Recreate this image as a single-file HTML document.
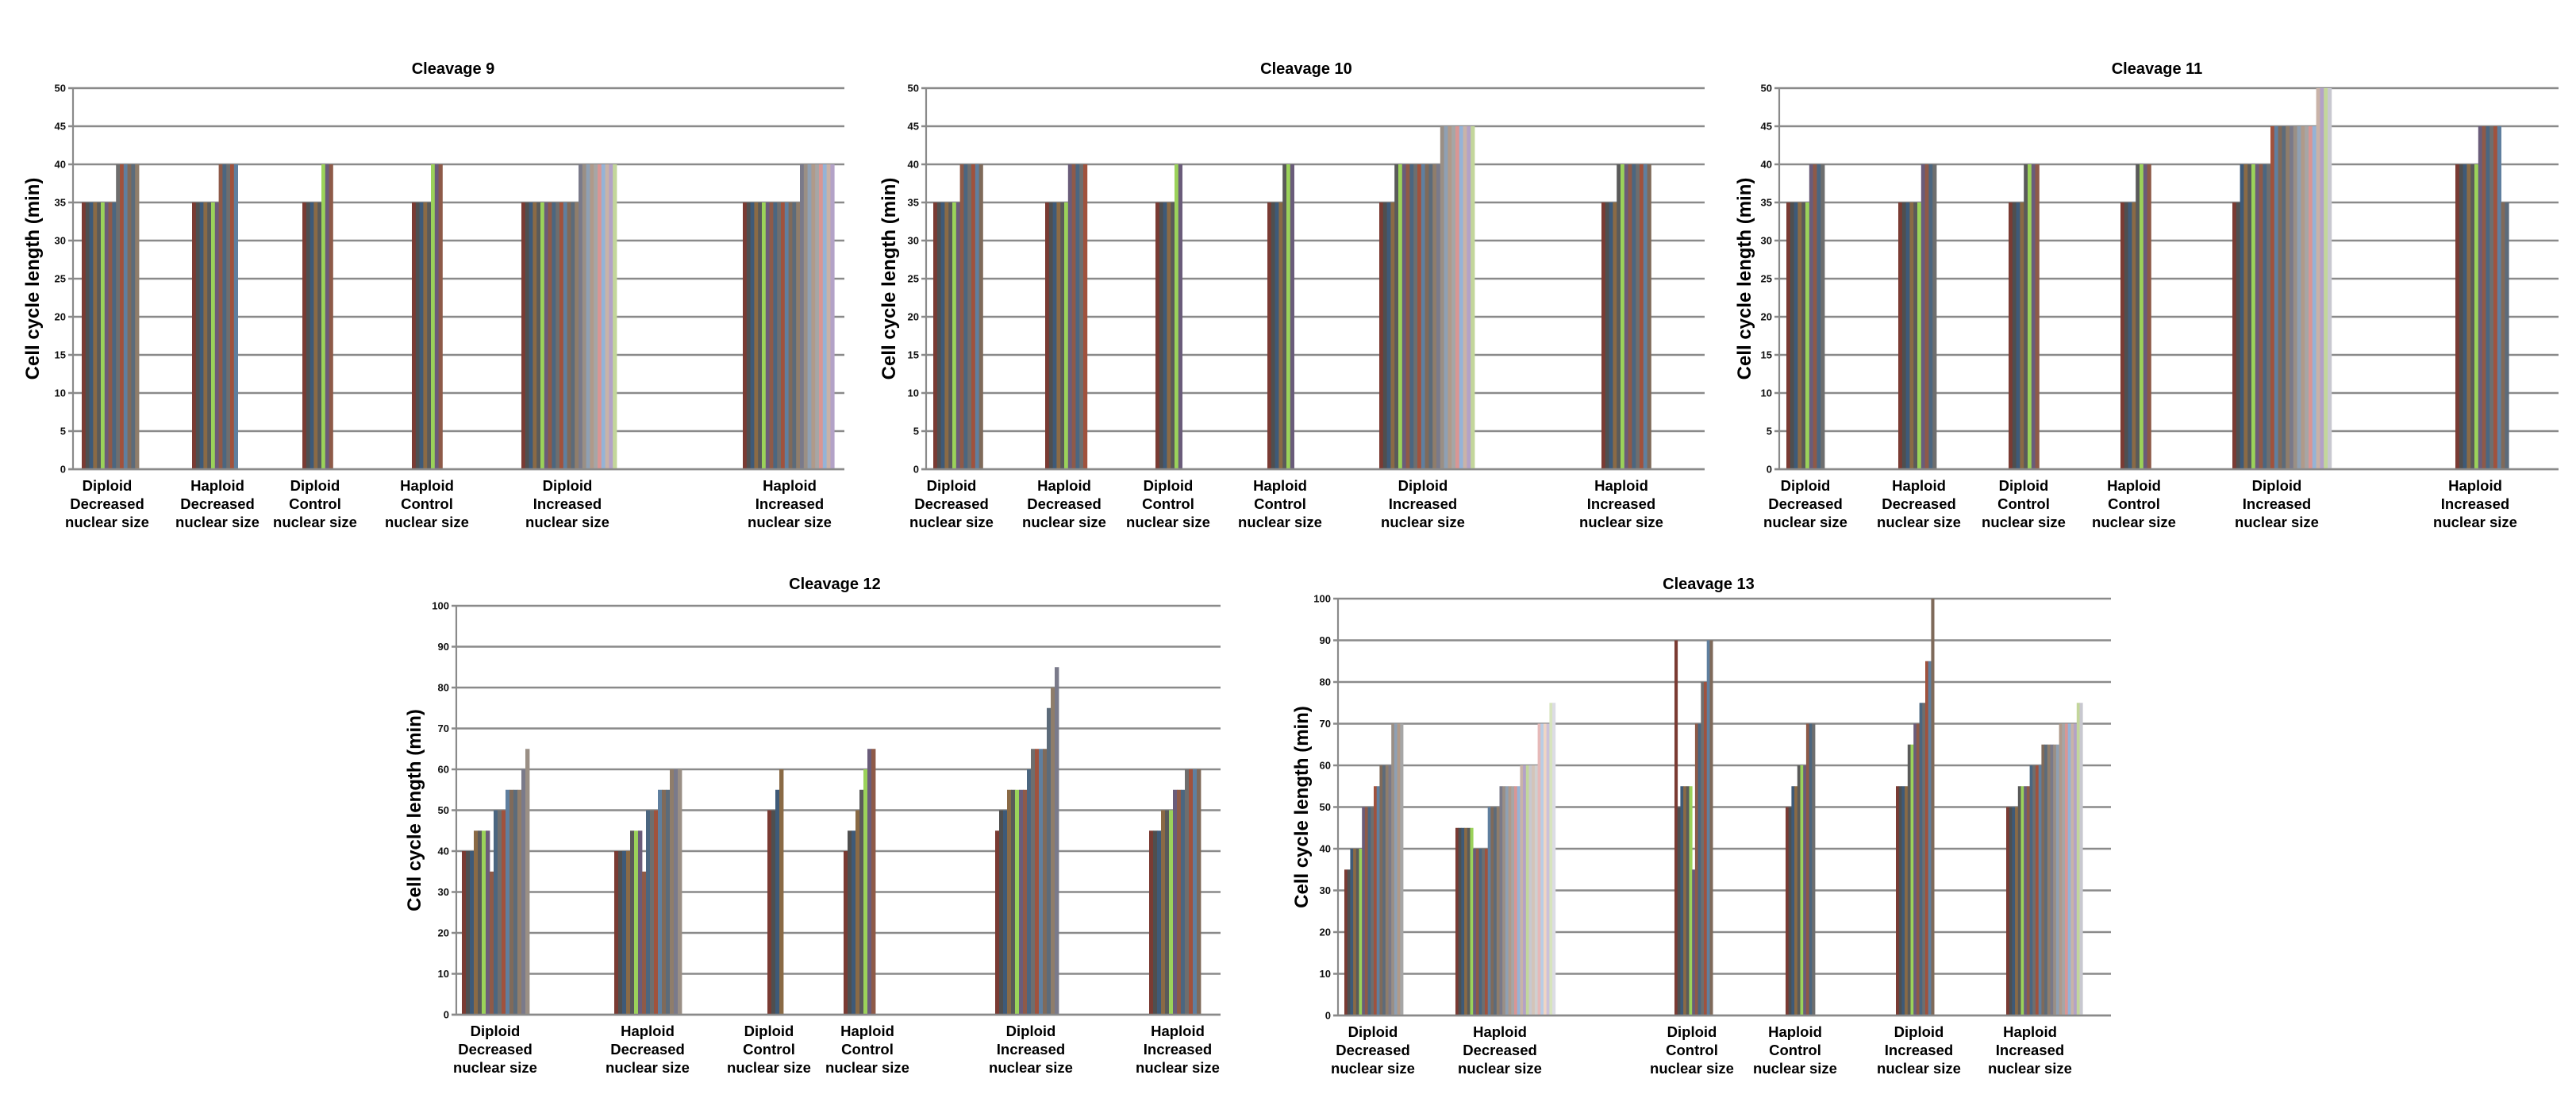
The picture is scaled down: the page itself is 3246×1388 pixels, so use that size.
<!DOCTYPE html>
<html><head><meta charset="utf-8"><style>
html,body{margin:0;padding:0;background:#fff;}
svg{display:block;font-family:"Liberation Sans",Arial,sans-serif;}
</style></head><body>
<svg id="fig" width="3246" height="1388" viewBox="0 0 3246 1388" xmlns="http://www.w3.org/2000/svg"></svg>
<script>
// ---- data ----
const categories = ["Diploid|Decreased|nuclear size","Haploid|Decreased|nuclear size","Diploid|Control|nuclear size","Haploid|Control|nuclear size","Diploid|Increased|nuclear size","Haploid|Increased|nuclear size"];
const c9_values = [
 [35,35,35,35,35,35,35,35,35,40,40,40,40,40,40],
 [35,35,35,35,35,35,35,40,40,40,40,40],
 [35,35,35,35,35,40,40,40],
 [35,35,35,35,35,40,40,40],
 [35,35,35,35,35,35,35,35,35,35,35,35,35,35,35,40,40,40,40,40,40,40,40,40,40],
 [35,35,35,35,35,35,35,35,35,35,35,35,35,35,35,40,40,40,40,40,40,40,40,40]
];
const c10_values = [
 [35,35,35,35,35,35,35,40,40,40,40,40,40],
 [35,35,35,35,35,35,40,40,40,40,40],
 [35,35,35,35,35,40,40],
 [35,35,35,35,40,40,40],
 [35,35,35,35,40,40,40,40,40,40,40,40,40,40,40,40,45,45,45,45,45,45,45,45,45],
 [35,35,35,35,40,40,40,40,40,40,40,40,40]
];
const c11_values = [
 [35,35,35,35,35,35,40,40,40,40],
 [35,35,35,35,35,35,40,40,40,40],
 [35,35,35,35,40,40,40,40],
 [35,35,35,35,40,40,40,40],
 [35,35,40,40,40,40,40,40,40,40,45,45,45,45,45,45,45,45,45,45,45,45,50,50,50,50],
 [40,40,40,40,40,40,45,45,45,45,45,45,35,35]
];
const c12_values = [
 [40,40,40,45,45,45,45,35,50,50,50,55,55,55,55,60,65],
 [40,40,40,40,45,45,45,35,50,50,50,55,55,55,60,60,60],
 [50,50,55,60],
 [40,45,45,50,55,60,65,65],
 [45,50,50,55,55,55,55,55,60,65,65,65,65,75,80,85],
 [45,45,45,50,50,50,55,55,55,60,60,60,60]
];
const c13_values = [
 [35,35,40,40,40,40,50,50,50,50,55,55,60,60,60,60,70,70,70,70],
 [45,45,45,45,45,45,40,40,40,40,40,50,50,50,50,55,55,55,55,55,55,55,60,60,60,60,60,60,70,70,70,70,75,75],
 [90,50,55,55,55,55,35,70,70,80,80,90,90],
 [50,50,55,55,60,60,60,70,70,70],
 [55,55,55,55,65,65,70,70,75,75,85,85,100],
 [50,50,50,50,55,55,55,55,60,60,60,60,65,65,65,65,65,65,70,70,70,70,70,70,75,75]
];
const ticks50 = [0,5,10,15,20,25,30,35,40,45,50];
const ticks100 = [0,10,20,30,40,50,60,70,80,90,100];

// ---- layout ----
const charts = [
 {id:"cleavage-9", title:"Cleavage 9", vals:c9_values, ticks:ticks50, L:92,R:1064,T:111,B:591, bw:4.8, starts:[103,242,381,519,657,936], labels:[135,274,397,538,715,995], tx:571, ty:93, yx:41},
 {id:"cleavage-10", title:"Cleavage 10", vals:c10_values, ticks:ticks50, L:1167,R:2148,T:111,B:591, bw:4.8, starts:[1176,1317,1456,1597,1738,2018], labels:[1199,1341,1472,1613,1793,2043], tx:1646, ty:93, yx:1120},
 {id:"cleavage-11", title:"Cleavage 11", vals:c11_values, ticks:ticks50, L:2242,R:3224,T:111,B:591, bw:4.8, starts:[2251,2392,2531,2672,2813,3094], labels:[2275,2418,2550,2689,2869,3119], tx:2718, ty:93, yx:2198},
 {id:"cleavage-12", title:"Cleavage 12", vals:c12_values, ticks:ticks100, L:575,R:1538,T:763,B:1278, bw:5, starts:[582,774,967,1063,1254,1448], labels:[624,816,969,1093,1299,1484], tx:1052, ty:742, yx:522},
 {id:"cleavage-13", title:"Cleavage 13", vals:c13_values, ticks:ticks100, L:1686,R:2660,T:754,B:1279, bw:3.7, starts:[1694,1834,2110,2250,2389,2528], labels:[1730,1890,2132,2262,2418,2558], tx:2153, ty:742, yx:1640}
];
const palette = ["#7a3b33","#4f4f4f","#3e5a78","#8a6a45","#5a5a5a","#9bd25a","#6a5c7a","#8e5a48","#4b6680","#6e6e6e","#a0523d","#5f7f9f","#7f6a5a","#5c6b7a","#8f7d6b","#7a7a8a","#9a8f85","#8fa0b3","#b09a8a","#a6a6a6","#d99694","#95b3d7","#c9b3a8","#b3a2c7","#c3d69b","#c8c8d0","#d4c4b8","#d0d0d0","#e6b9b8","#b9cde5","#f0d5c5","#ccc1da","#d7e4bd","#dcdce4","#ddd9c4","#f2dcdb"];
const NS="http://www.w3.org/2000/svg";
const svg=document.getElementById("fig");
function mk(tag,attrs,parent){const e=document.createElementNS(NS,tag);for(const k in attrs)e.setAttribute(k,attrs[k]);(parent||svg).appendChild(e);return e;}

charts.forEach(ch=>{
  const g=mk("g",{});
  
  
  const yMax=ch.ticks[ch.ticks.length-1];
  const yS=v=>ch.B-(v/yMax)*(ch.B-ch.T);
  ch.ticks.forEach(t=>{
    const y=yS(t);
    const gl=mk("line",{x1:ch.L-6,x2:ch.R,y1:y,y2:y,stroke:"#8a8a8a","stroke-width":2.4},g);
    
    
    const tl=mk("text",{x:ch.L-9,y:y+4.5,"text-anchor":"end","font-size":13,"font-weight":"bold",fill:"#111"},g);
    tl.textContent=t;
    
    
  });
  const ax=mk("line",{x1:ch.L,x2:ch.L,y1:ch.T,y2:ch.B,stroke:"#8a8a8a","stroke-width":2.2},g);
  
  
  ch.vals.forEach((grp,gi)=>{
    grp.forEach((v,i)=>{
      const x=ch.starts[gi]+i*ch.bw;
      const y=yS(v);
      const b=mk("rect",{x:x,y:y,width:ch.bw+0.4,height:ch.B-y,fill:palette[i%palette.length]},g);
      
      
    });
  });
  const zl=mk("line",{x1:ch.L-6,x2:ch.R,y1:ch.B,y2:ch.B,stroke:"#8a8a8a","stroke-width":2.4},g);
  
  
  categories.forEach((c,ci)=>{
    const t=mk("text",{x:ch.labels[ci],y:ch.B+27,"text-anchor":"middle","font-size":18.5,"font-weight":"bold",fill:"#000"},g);
    
    
    c.split("|").forEach((ln,li)=>{
      const s=mk("tspan",{x:ch.labels[ci],dy:li?23:0},t);
      s.textContent=ln;
    });
  });
  const tt=mk("text",{x:ch.tx,y:ch.ty,"text-anchor":"middle","font-size":20,"font-weight":"bold",fill:"#000"},g);
  tt.textContent=ch.title;
  
  
  const cy=(ch.T+ch.B)/2;
  const yt=mk("text",{x:ch.yx,y:cy,"text-anchor":"middle","font-size":24,"font-weight":"bold",fill:"#000",transform:"rotate(-90 "+ch.yx+" "+cy+")",dy:8},g);
  yt.textContent="Cell cycle length (min)";
  
  
});
</script>
</body></html>
